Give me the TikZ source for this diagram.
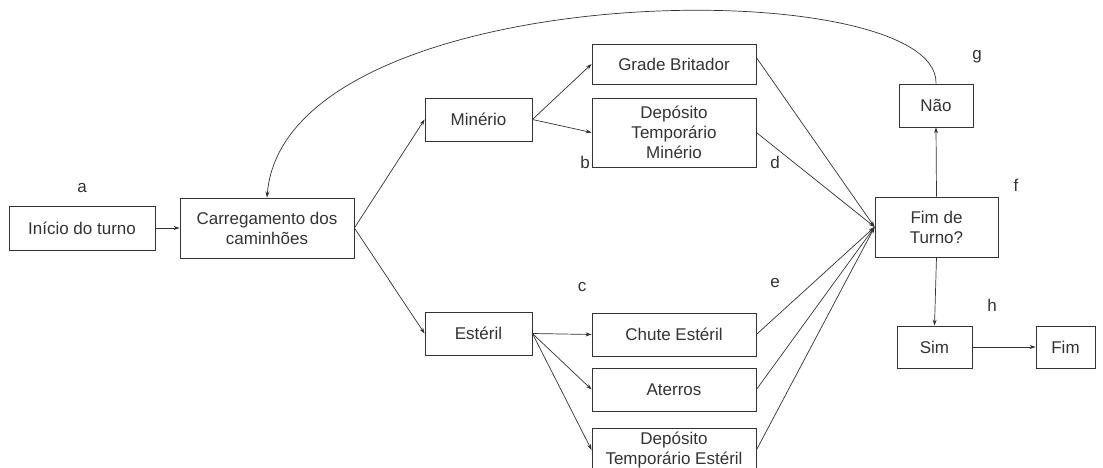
\documentclass[tikz,border=0pt]{standalone}
\usepackage{fontspec}
\setmainfont{Liberation Sans}
\usetikzlibrary{arrows.meta,calc}
\begin{document}
\begin{tikzpicture}[x=1pt,y=-1pt,
  box/.style={draw=black!80,line width=0.8pt,inner sep=0pt,align=center,text=black!80,
    font=\fontsize{17}{20}\selectfont},
  lbl/.style={inner sep=0pt,text=black!80,font=\fontsize{17}{20}\selectfont},
  conn/.style={draw=black!80,line width=0.7pt,-{Stealth[length=6pt,width=4pt]}},
  plain/.style={draw=black!80,line width=0.7pt}]
\useasboundingbox (0,0) rectangle (1103,468);
\clip (0,0) rectangle (1103,468);
% boxes
\node[box,minimum width=146,minimum height=44] (inicio) at (82,228) {Início do turno};
\node[box,minimum width=174,minimum height=60] (carreg) at (267,228) {Carregamento dos\\caminhões};
\node[box,minimum width=107,minimum height=43] (minerio) at (478.5,119.5) {Minério};
\node[box,minimum width=164,minimum height=40] (grade) at (674,64) {Grade Britador};
\node[box,minimum width=164,minimum height=69] (depM) at (674,132.5) {Depósito\\Temporário\\Minério};
\node[box,minimum width=107,minimum height=43] (esteril) at (478.5,333.5) {Estéril};
\node[box,minimum width=164,minimum height=43] (chute) at (674,334.5) {Chute Estéril};
\node[box,minimum width=164,minimum height=43] (aterros) at (674,389.5) {Aterros};
\node[box,minimum width=164,minimum height=44] (depE) at (674,450) {Depósito\\Temporário Estéril};
\node[box,minimum width=123,minimum height=60] (fimturno) at (936.5,227) {Fim de\\Turno?};
\node[box,minimum width=74,minimum height=43] (nao) at (936,105.5) {Não};
\node[box,minimum width=75,minimum height=42] (sim) at (934.5,347) {Sim};
\node[box,minimum width=59,minimum height=42] (fim) at (1065.5,347) {Fim};
% labels
\node[lbl] (la) at (82,188) {a};
\node[lbl] (lb) at (585,162) {b};
\node[lbl] (lc) at (582,287) {c};
\node[lbl] (ld) at (775,162) {d};
\node[lbl] (le) at (775,283) {e};
\node[lbl] (lf) at (1016,185) {f};
\node[lbl] (lg) at (977,57) {g};
\node[lbl] (lh) at (992,305) {h};
% connectors
\draw[conn] (inicio.east) -- (carreg.west);
\draw[conn] (carreg.east) -- (minerio.west);
\draw[conn] (carreg.east) -- (esteril.west);
\draw[conn] (minerio.east) -- (grade.west);
\draw[conn] (minerio.east) -- (depM.west);
\draw[conn] (esteril.east) -- (chute.west);
\draw[conn] (esteril.east) -- (aterros.west);
\draw[conn] (esteril.east) -- (depE.west);
\coordinate (gradeOut) at ($(grade.north east)+(0,14)$);
\draw[conn] (gradeOut) -- (fimturno.west);
\draw[conn] (depM.east) -- (fimturno.west);
\draw[conn] (chute.east) -- (fimturno.west);
\draw[conn] (aterros.east) -- (fimturno.west);
\draw[conn] (depE.east) -- (fimturno.west);
\draw[conn] (fimturno.north) -- (nao.south);
\draw[conn] (fimturno.south) -- (sim.north);
\draw[conn] (sim.east) -- (fim.west);
\draw[conn] (nao.north) .. controls (940,-30) and (285,-25) .. (carreg.north);
\end{tikzpicture}
\end{document}
